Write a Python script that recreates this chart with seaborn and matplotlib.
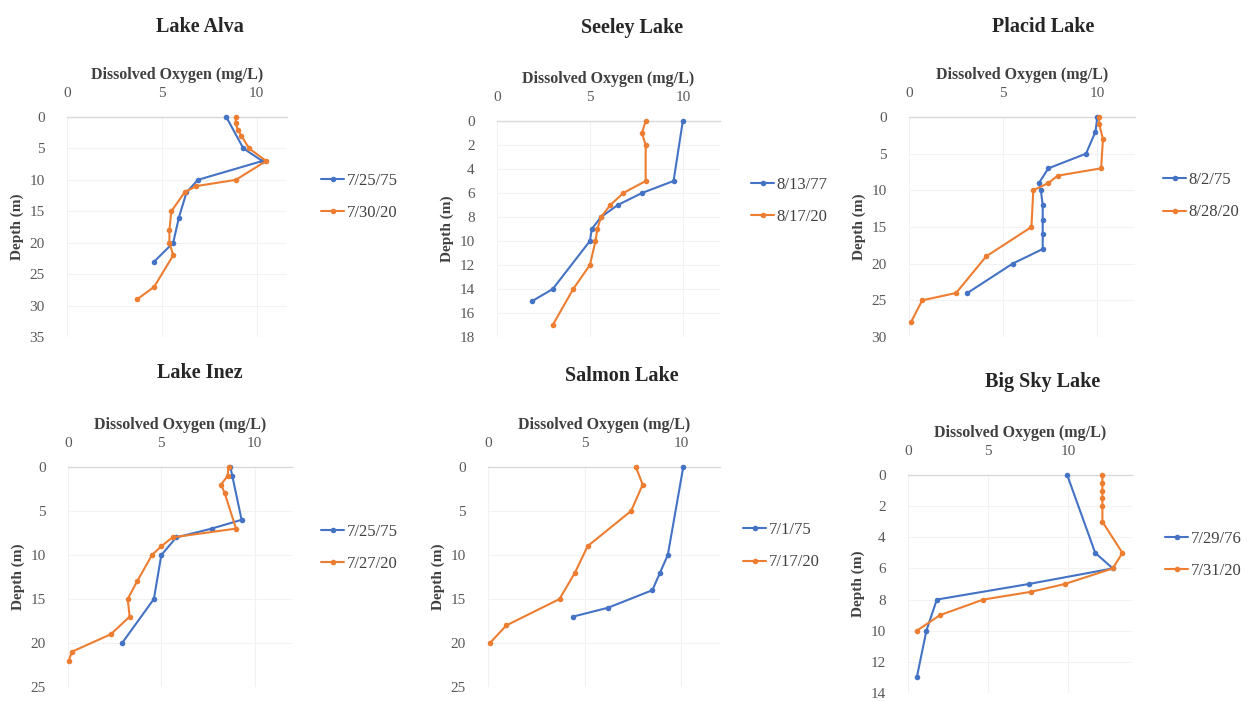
import numpy as np
import pandas as pd
import matplotlib
matplotlib.use("Agg")
import matplotlib.pyplot as plt
from matplotlib.lines import Line2D
import seaborn as sns

# ---------------- data ----------------
alva_d1 = [0, 5, 7, 10, 12, 16, 20, 23]
alva_v1 = [8.4, 9.3, 10.3, 6.9, 6.3, 5.9, 5.6, 4.6]
alva_d2 = [0, 1, 2, 3, 5, 7, 10, 11, 12, 15, 18, 20, 22, 27, 29]
alva_v2 = [8.9, 8.9, 9.0, 9.2, 9.6, 10.5, 8.9, 6.8, 6.2, 5.5, 5.4, 5.4, 5.6, 4.6, 3.7]

seeley_d1 = [0, 5, 6, 7, 8, 9, 10, 14, 15]
seeley_v1 = [10.0, 9.5, 7.8, 6.5, 5.6, 5.1, 5.0, 3.0, 1.9]
seeley_d2 = [0, 1, 2, 5, 6, 7, 8, 9, 10, 12, 14, 17]
seeley_v2 = [8.0, 7.8, 8.0, 8.0, 6.8, 6.1, 5.6, 5.4, 5.3, 5.0, 4.1, 3.0]

placid_d1 = [0, 2, 5, 7, 9, 10, 12, 14, 16, 18, 20, 24]
placid_v1 = [10.0, 9.9, 9.4, 7.4, 6.9, 7.0, 7.1, 7.1, 7.1, 7.1, 5.5, 3.1]
placid_d2 = [0, 1, 3, 7, 8, 9, 10, 15, 19, 24, 25, 28]
placid_v2 = [10.1, 10.1, 10.3, 10.2, 7.9, 7.4, 6.6, 6.5, 4.1, 2.5, 0.7, 0.1]

inez_d1 = [0, 1, 6, 7, 8, 10, 15, 20]
inez_v1 = [8.7, 8.8, 9.3, 7.7, 5.8, 5.0, 4.6, 2.9]
inez_d2 = [0, 1, 2, 3, 7, 8, 9, 10, 13, 15, 17, 19, 21, 22]
inez_v2 = [8.6, 8.55, 8.2, 8.4, 9.0, 5.6, 5.0, 4.5, 3.7, 3.2, 3.3, 2.3, 0.2, 0.05]

salmon_d1 = [0, 10, 12, 14, 16, 17]
salmon_v1 = [10.1, 9.3, 8.9, 8.5, 6.2, 4.4]
salmon_d2 = [0, 2, 5, 9, 12, 15, 18, 20]
salmon_v2 = [7.65, 8.0, 7.4, 5.15, 4.5, 3.7, 0.95, 0.1]

bigsky_d1 = [0, 5, 6, 7, 8, 10, 13]
bigsky_v1 = [9.95, 11.7, 12.8, 7.55, 1.8, 1.15, 0.55]
bigsky_d2 = [0, 0.5, 1, 1.5, 2, 3, 5, 6, 7, 7.5, 8, 9, 10]
bigsky_v2 = [12.15, 12.15, 12.15, 12.15, 12.15, 12.15, 13.4, 12.8, 9.8, 7.7, 4.7, 2.0, 0.55]

titles = ["Lake Alva", "Seeley Lake", "Placid Lake", "Lake Inez", "Salmon Lake", "Big Sky Lake"]
dates1 = ["7/25/75", "8/13/77", "8/2/75", "7/25/75", "7/1/75", "7/29/76"]
dates2 = ["7/30/20", "8/17/20", "8/28/20", "7/27/20", "7/17/20", "7/31/20"]
series = [
    (alva_d1, alva_v1, alva_d2, alva_v2),
    (seeley_d1, seeley_v1, seeley_d2, seeley_v2),
    (placid_d1, placid_v1, placid_d2, placid_v2),
    (inez_d1, inez_v1, inez_d2, inez_v2),
    (salmon_d1, salmon_v1, salmon_d2, salmon_v2),
    (bigsky_d1, bigsky_v1, bigsky_d2, bigsky_v2),
]
ymax = [35, 18, 30, 25, 25, 14]
ystep = [5, 2, 5, 5, 5, 2]
xmax = [11.6, 12, 12, 12, 12, 14]

# ---------------- layout (pixels) ----------------
W, H = 1247, 702
# left (x=0), right, top (depth 0), bottom (depth max)
rects = [
    (67, 287, 117, 337),
    (497, 720, 121, 337),
    (909, 1135, 117, 337),
    (68, 292, 467, 687),
    (488, 720, 467, 687),
    (908, 1132, 475, 693),
]
title_pos = [(200, 27), (632, 28), (1043, 27), (200, 373), (622, 376), (1043, 382)]
legend_pos = [(306, 197), (736, 201), (1148, 196), (306, 548), (728, 546), (1150, 555)]

BLUE = "#4472C4"
ORANGE = "#ED7D31"
SERIF = ["Liberation Serif", "DejaVu Serif"]

sns.set_theme(style="white")
plt.rcParams["font.family"] = SERIF

fig = plt.figure(figsize=(W / 100, H / 100), dpi=100)
fig.patch.set_facecolor("white")

for i in range(6):
    d1, v1, d2, v2 = series[i]
    df = pd.concat([
        pd.DataFrame({"DO": v1, "Depth": d1, "Date": dates1[i]}),
        pd.DataFrame({"DO": v2, "Depth": d2, "Date": dates2[i]}),
    ], ignore_index=True)
    x0, x1, y0, y1 = rects[i]
    ax = fig.add_axes([x0 / W, 1 - y1 / H, (x1 - x0) / W, (y1 - y0) / H])
    sns.lineplot(data=df, x="DO", y="Depth", hue="Date", sort=False, estimator=None,
                 palette=[BLUE, ORANGE], marker="o", markersize=4, markeredgewidth=0,
                 linewidth=1.5, ax=ax, legend=False, clip_on=False, zorder=5)
    ax.set_xlim(0, xmax[i])
    ax.set_ylim(ymax[i], 0)
    ax.set_xticks([0, 5, 10])
    ax.set_yticks(np.arange(0, ymax[i] + 0.1, ystep[i]))
    ax.xaxis.tick_top()
    ax.xaxis.set_label_position("top")
    ax.tick_params(axis="both", length=0, labelsize=11, labelcolor="#595959")
    ax.tick_params(axis="x", pad=12)
    ax.tick_params(axis="y", pad=16)
    ax.set_xlabel("Dissolved Oxygen (mg/L)", fontsize=11.5, fontweight="bold",
                  color="#404040", labelpad=6)
    ax.set_ylabel("Depth (m)", fontsize=11, fontweight="bold", color="#404040", labelpad=4)
    ax.grid(True, color="#f2f2f2", linewidth=0.8)
    for s in ["right", "bottom", "left"]:
        ax.spines[s].set_visible(False)
    ax.spines["top"].set_color("#d9d9d9")
    ax.spines["top"].set_linewidth(1.0)
    ax.spines["top"].set_zorder(1)
    ax.set_facecolor("white")

    tx, ty = title_pos[i]
    fig.text(tx / W, 1 - ty / H, titles[i], ha="center", va="center",
             fontsize=14.5, fontweight="bold", color="#262626", family=SERIF)

    handles = [Line2D([], [], color=BLUE, marker="o", markersize=4, markeredgewidth=0, lw=1.5),
               Line2D([], [], color=ORANGE, marker="o", markersize=4, markeredgewidth=0, lw=1.5)]
    lx, ly = legend_pos[i]
    fig.legend(handles, [dates1[i], dates2[i]], loc="center left",
               bbox_to_anchor=(lx / W, 1 - ly / H), frameon=False, fontsize=12,
               handlelength=1.4, handletextpad=0.15, labelspacing=1.0,
               labelcolor="#404040")

fig.savefig("out.png", dpi=100, facecolor="white")
